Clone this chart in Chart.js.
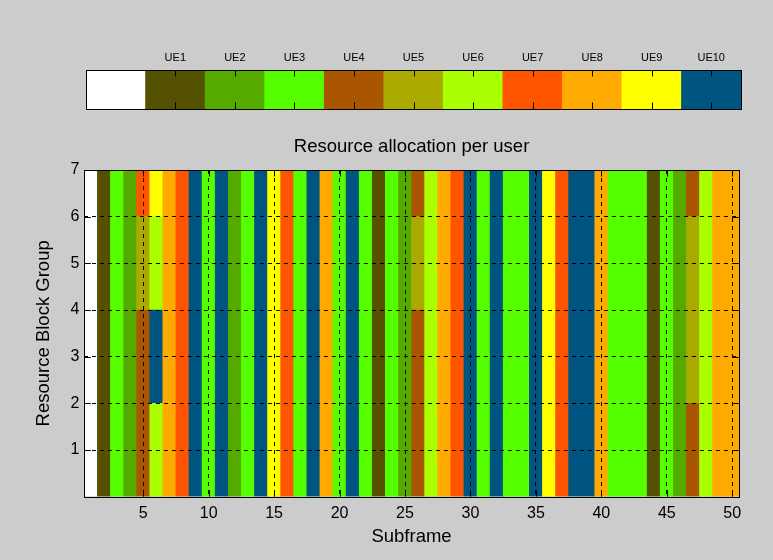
<!DOCTYPE html>
<html><head><meta charset="utf-8">
<script src="https://cdn.jsdelivr.net/npm/chart.js@4.4.0/dist/chart.umd.min.js"></script>
<style>
html,body{margin:0;padding:0;background:#cccccc;}
#wrap{position:relative;width:773px;height:560px;overflow:hidden;}
canvas{position:absolute;left:0;top:0;}
</style></head><body>
<div id="wrap"><canvas id="main" width="773" height="560"></canvas><canvas id="cbar" width="773" height="122"></canvas></div>
<script>
// ---- data ----
const subframes = [1,2,3,4,5,6,7,8,9,10,11,12,13,14,15,16,17,18,19,20,21,22,23,24,25,26,27,28,29,30,31,32,33,34,35,36,37,38,39,40,41,42,43,44,45,46,47,48,49,50];
const ueLabels = ['', 'UE1', 'UE2', 'UE3', 'UE4', 'UE5', 'UE6', 'UE7', 'UE8', 'UE9', 'UE10'];
const uePalette = ['#ffffff','#545200','#55aa00','#55ff00','#aa5500','#aaaa00','#aaff00','#ff5500','#ffaa00','#ffff00','#005580'];
const xTickLabels = [5,10,15,20,25,30,35,40,45,50];
const yTickLabels = [1,2,3,4,5,6,7];
// user index (0 = unallocated) per subframe, one array per resource block group (bottom to top)
const rbg1 = [0,1,3,2,4,6,8,7,10,3, 10,2,3,10,9,7,3,10,8,3, 10,3,1,3,2,4,6,8,7,10, 3,10,3,3,10,9,7,10,10,8, 3,3,3,1,3,2,4,6,8,8];
const rbg2 = [0,1,3,2,4,6,8,7,10,3, 10,2,3,10,9,7,3,10,8,3, 10,3,1,3,2,4,6,8,7,10, 3,10,3,3,10,9,7,10,10,8, 3,3,3,1,3,2,4,6,8,8];
const rbg3 = [0,1,3,2,4,10,8,7,10,3, 10,2,3,10,9,7,3,10,8,3, 10,3,1,3,2,4,6,8,7,10, 3,10,3,3,10,9,7,10,10,8, 3,3,3,1,3,2,5,6,8,8];
const rbg4 = [0,1,3,2,4,10,8,7,10,3, 10,2,3,10,9,7,3,10,8,3, 10,3,1,3,2,4,6,8,7,10, 3,10,3,3,10,9,7,10,10,8, 3,3,3,1,3,2,5,6,8,8];
const rbg5 = [0,1,3,2,5,6,8,7,10,3, 10,2,3,10,9,7,3,10,8,3, 10,3,1,3,2,5,6,8,7,10, 3,10,3,3,10,9,7,10,10,8, 3,3,3,1,3,2,5,6,8,8];
const rbg6 = [0,1,3,2,5,6,8,7,10,3, 10,2,3,10,9,7,3,10,8,3, 10,3,1,3,2,5,6,8,7,10, 3,10,3,3,10,9,7,10,10,8, 3,3,3,1,3,2,5,6,8,8];
const rbg7 = [0,1,3,2,7,9,8,7,10,3, 10,2,3,10,9,7,3,10,8,3, 10,3,1,3,2,4,6,8,7,10, 3,10,3,3,10,9,7,10,10,8, 3,3,3,1,3,2,4,6,8,8];
const allocation = [rbg1, rbg2, rbg3, rbg4, rbg5, rbg6, rbg7];

const FONT = 'Liberation Sans, Arial, sans-serif';
const TICKLEN = 6.5;

const mainFrame = {
  id: 'mainFrame',
  afterDraw(chart) {
    const {ctx, chartArea: a, scales} = chart;
    ctx.save();
    ctx.strokeStyle = '#000';
    ctx.lineWidth = 1;
    ctx.setLineDash([]);
    ctx.beginPath();
    xTickLabels.forEach(v => {
      const px = Math.round(scales.x.getPixelForValue(subframes.indexOf(v))) + 0.5;
      ctx.moveTo(px, a.bottom); ctx.lineTo(px, a.bottom - TICKLEN);
      ctx.moveTo(px, a.top); ctx.lineTo(px, a.top + TICKLEN);
    });
    yTickLabels.forEach(v => {
      const py = Math.round(scales.y.getPixelForValue(v)) + 0.5;
      ctx.moveTo(a.left, py); ctx.lineTo(a.left + TICKLEN, py);
      ctx.moveTo(a.right, py); ctx.lineTo(a.right - TICKLEN, py);
    });
    ctx.stroke();
    ctx.strokeRect(Math.round(a.left) + 0.5, Math.round(a.top) + 0.5, Math.round(a.right - a.left), Math.round(a.bottom - a.top));
    ctx.restore();
  }
};

new Chart(document.getElementById('main'), {
  type: 'bar',
  data: {
    labels: subframes,
    datasets: allocation.map((row, k) => ({
      data: row.map(() => [k, k + 1]),
      backgroundColor: row.map(u => uePalette[u]),
      borderWidth: 0,
      barPercentage: 1,
      categoryPercentage: 1,
      grouped: false
    }))
  },
  options: {
    responsive: false,
    animation: false,
    events: [],
    layout: { padding: { left: 0, right: 34.2, top: 0, bottom: 0 } },
    plugins: {
      legend: { display: false },
      tooltip: { enabled: false },
      title: {
        display: true, text: 'Resource allocation per user', fullSize: false,
        color: '#000', font: { family: FONT, size: 18.5, weight: 'normal', lineHeight: 1.2 },
        padding: { top: 136, bottom: 11.8 }
      }
    },
    scales: {
      x: {
        type: 'category', offset: true,
        grid: { z: 1, offset: false, drawTicks: false, lineWidth: 1,
          color: c => xTickLabels.includes(subframes[c.index]) ? '#000' : 'rgba(0,0,0,0)' },
        border: { display: false, dash: [4, 4] },
        ticks: { autoSkip: false, maxRotation: 0, minRotation: 0, padding: 7, color: '#000',
          font: { family: FONT, size: 16 },
          callback: (v, i) => xTickLabels.includes(subframes[i]) ? String(subframes[i]) : '' },
        title: { display: true, text: 'Subframe', color: '#000',
          font: { family: FONT, size: 18.5, lineHeight: 1.2 }, padding: { top: 0, bottom: 11.5 } },
        afterFit: s => { s.height = 63.3; }
      },
      y: {
        type: 'linear', min: 0, max: 7,
        grid: { z: 1, drawTicks: false, lineWidth: 1,
          color: c => (c.tick && c.tick.value > 0 && c.tick.value < 7) ? '#000' : 'rgba(0,0,0,0)' },
        border: { display: false, dash: [4, 4] },
        ticks: { stepSize: 1, padding: 5, color: '#000', font: { family: FONT, size: 16 },
          callback: v => yTickLabels.includes(v) ? String(v) : '' },
        title: { display: true, text: 'Resource Block Group', color: '#000',
          font: { family: FONT, size: 18.5, lineHeight: 1.2 }, padding: { top: 33, bottom: 0 } },
        afterFit: s => { s.width = 84.3; }
      }
    }
  },
  plugins: [mainFrame]
});

const cbarFrame = {
  id: 'cbarFrame',
  afterDraw(chart) {
    const {ctx, chartArea: a, scales} = chart;
    ctx.save();
    ctx.strokeStyle = '#000';
    ctx.lineWidth = 1;
    ctx.beginPath();
    ueLabels.forEach((lab, i) => {
      if (!lab) return;
      const px = Math.round(scales.x.getPixelForValue(i)) + 0.5;
      ctx.moveTo(px, a.bottom); ctx.lineTo(px, a.bottom - TICKLEN);
      ctx.moveTo(px, a.top); ctx.lineTo(px, a.top + TICKLEN);
    });
    ctx.stroke();
    ctx.strokeRect(Math.round(a.left) + 0.5, Math.round(a.top) + 0.5, Math.round(a.right - a.left), Math.round(a.bottom - a.top));
    ctx.restore();
  }
};

new Chart(document.getElementById('cbar'), {
  type: 'bar',
  data: {
    labels: ueLabels,
    datasets: [{
      data: ueLabels.map(() => [0, 1]),
      backgroundColor: uePalette,
      borderWidth: 0,
      barPercentage: 1,
      categoryPercentage: 1
    }]
  },
  options: {
    responsive: false,
    animation: false,
    events: [],
    layout: { padding: { left: 86, right: 32, top: 0, bottom: 13 } },
    plugins: { legend: { display: false }, tooltip: { enabled: false } },
    scales: {
      x: {
        type: 'category', position: 'top', offset: true,
        grid: { display: false, drawTicks: false },
        border: { display: false },
        ticks: { autoSkip: false, maxRotation: 0, padding: 5, color: '#000',
          font: { family: FONT, size: 11 } },
        afterFit: s => { s.height = 70; }
      },
      y: { type: 'linear', min: 0, max: 1, display: false }
    }
  },
  plugins: [cbarFrame]
});
</script>
</body></html>
